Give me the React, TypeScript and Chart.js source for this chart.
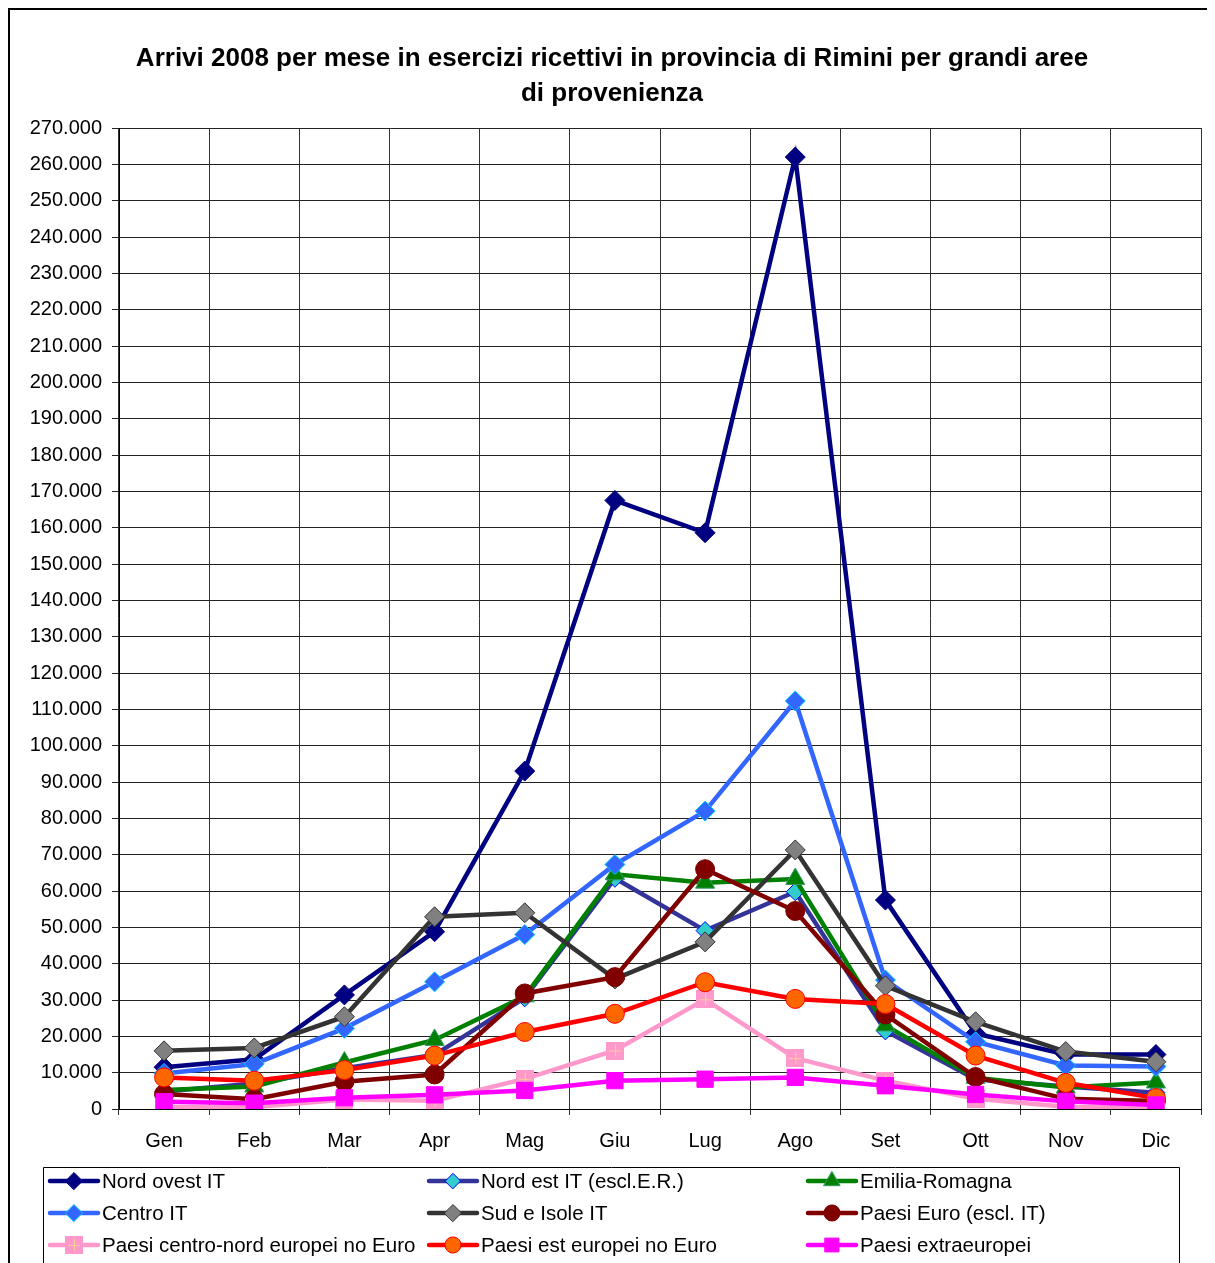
import React, { useEffect, useRef } from 'react';
import { Chart, registerables } from 'chart.js';

Chart.register(...registerables);

const months = ['Gen', 'Feb', 'Mar', 'Apr', 'Mag', 'Giu', 'Lug', 'Ago', 'Set', 'Ott', 'Nov', 'Dic'];

const titleLines = [
  'Arrivi 2008 per mese in esercizi ricettivi in provincia di Rimini per grandi aree',
  'di provenienza',
];

const seriesNames = [
  'Nord ovest IT',
  'Nord est IT (escl.E.R.)',
  'Emilia-Romagna',
  'Centro IT',
  'Sud e Isole IT',
  'Paesi Euro (escl. IT)',
  'Paesi centro-nord europei no Euro',
  'Paesi est europei no Euro',
  'Paesi extraeuropei',
];

const nordOvest = [11500, 13700, 31400, 48800, 93000, 167500, 158600, 262000, 57500, 20800, 15000, 15000];
const nordEst = [4800, 7000, 11200, 14900, 30600, 63500, 49100, 59800, 21500, 8200, 6200, 4500];
const emilia = [5200, 6200, 12800, 19000, 31000, 64600, 62300, 63300, 23000, 8600, 5900, 7300];
const centro = [9800, 12400, 22200, 35000, 48000, 67300, 82000, 112300, 35500, 18500, 12000, 11700];
const sud = [16000, 16800, 25400, 52900, 54000, 35800, 46000, 71300, 33900, 24000, 15800, 13000];
const paesiEuro = [4100, 2700, 7500, 9500, 31800, 36300, 66000, 54500, 26000, 8800, 2800, 2200];
const centroNord = [500, 500, 2600, 2300, 8300, 16100, 30200, 14000, 7800, 2800, 600, 300];
const estEuropei = [8700, 7800, 10700, 14700, 21200, 26200, 34900, 30300, 28900, 14700, 7200, 3000];
const extraEuropei = [2000, 1600, 3100, 3900, 5100, 7800, 8200, 8700, 6400, 4000, 2100, 1100];

const seriesValues = [nordOvest, nordEst, emilia, centro, sud, paesiEuro, centroNord, estEuropei, extraEuropei];

const yMin = 0;
const yMax = 270000;
const yStep = 10000;

const FONT = '"Liberation Sans", Arial, sans-serif';

type Style = {
  line: string;
  fill: string;
  border: string;
  shape: string;
  radius: number;
};

const styles: Style[] = [
  { line: '#000080', fill: '#000080', border: '#000080', shape: 'rectRot', radius: 10 },
  { line: '#333399', fill: '#33CCCC', border: '#0000FF', shape: 'rectRot', radius: 9 },
  { line: '#008000', fill: '#008000', border: '#339966', shape: 'triangle', radius: 11 },
  { line: '#3366FF', fill: '#3366FF', border: '#00CCFF', shape: 'rectRot', radius: 10 },
  { line: '#333333', fill: '#808080', border: '#333333', shape: 'rectRot', radius: 10 },
  { line: '#800000', fill: '#800000', border: '#800000', shape: 'circle', radius: 9.5 },
  { line: '#FF99CC', fill: '#FF99CC', border: '#FF99CC', shape: 'pinkCross', radius: 9 },
  { line: '#FF0000', fill: '#FF6600', border: '#FF0000', shape: 'circle', radius: 9.5 },
  { line: '#FF00FF', fill: '#FF00FF', border: '#FF00FF', shape: 'rect', radius: 11.5 },
];

function makePinkMarker(size: number): HTMLCanvasElement {
  const c = document.createElement('canvas');
  c.width = size;
  c.height = size;
  const g = c.getContext('2d')!;
  g.fillStyle = '#FF99CC';
  g.fillRect(0, 0, size, size);
  g.strokeStyle = '#FFCC99';
  g.lineWidth = 1;
  const m = Math.floor(size / 2) + 0.5;
  g.beginPath();
  g.moveTo(m, 3);
  g.lineTo(m, size - 3);
  g.moveTo(3, m);
  g.lineTo(size - 3, m);
  g.stroke();
  return c;
}

const fmt = (v: number) => String(Math.round(v)).replace(/\B(?=(\d{3})+(?!\d))/g, '.');

function drawMarker(ctx: CanvasRenderingContext2D, s: Style, x: number, y: number, pink: HTMLCanvasElement) {
  const r = s.radius;
  ctx.save();
  ctx.fillStyle = s.fill;
  ctx.strokeStyle = s.border;
  ctx.lineWidth = 1;
  ctx.beginPath();
  if (s.shape === 'pinkCross') {
    ctx.drawImage(pink, x - pink.width / 2, y - pink.height / 2);
    ctx.restore();
    return;
  } else if (s.shape === 'rectRot') {
    ctx.moveTo(x - r, y);
    ctx.lineTo(x, y - r);
    ctx.lineTo(x + r, y);
    ctx.lineTo(x, y + r);
    ctx.closePath();
  } else if (s.shape === 'triangle') {
    ctx.moveTo(x, y - r);
    ctx.lineTo(x + r * 0.866, y + r * 0.5);
    ctx.lineTo(x - r * 0.866, y + r * 0.5);
    ctx.closePath();
  } else if (s.shape === 'circle') {
    ctx.arc(x, y, r, 0, Math.PI * 2);
  } else {
    const h = r * Math.SQRT1_2;
    ctx.rect(x - h, y - h, 2 * h, 2 * h);
  }
  ctx.fill();
  ctx.stroke();
  ctx.restore();
}

export default function App() {
  const canvasRef = useRef<HTMLCanvasElement | null>(null);

  useEffect(() => {
    document.documentElement.style.overflow = 'hidden';
    document.body.style.overflow = 'hidden';
    const canvas = canvasRef.current;
    if (!canvas) return;
    const pink = makePinkMarker(18);

    const datasets = seriesNames.map((name, i) => {
      const s = styles[i];
      return {
        label: name,
        data: seriesValues[i],
        borderColor: s.line,
        backgroundColor: s.fill,
        borderWidth: 4.5,
        pointStyle: (s.shape === 'pinkCross' ? pink : s.shape) as any,
        pointRadius: s.radius,
        pointBackgroundColor: s.fill,
        pointBorderColor: s.border,
        pointBorderWidth: 1,
        tension: 0,
        fill: false,
        order: seriesNames.length - i,
      };
    });

    const decor = {
      id: 'decor',
      beforeDraw(chart: any) {
        const ctx = chart.ctx as CanvasRenderingContext2D;
        ctx.save();
        ctx.fillStyle = '#fff';
        ctx.fillRect(0, 0, chart.width, chart.height);
        ctx.strokeStyle = '#000';
        ctx.lineWidth = 2;
        ctx.beginPath();
        ctx.moveTo(1, chart.height + 5);
        ctx.lineTo(1, 1);
        ctx.lineTo(chart.width + 5, 1);
        ctx.stroke();
        ctx.fillStyle = '#000';
        ctx.font = `bold 26px ${FONT}`;
        ctx.textAlign = 'center';
        ctx.textBaseline = 'middle';
        ctx.fillText(titleLines[0], 604, 51);
        ctx.fillText(titleLines[1], 604, 86);
        ctx.restore();
      },
      afterDraw(chart: any) {
        const ctx = chart.ctx as CanvasRenderingContext2D;
        ctx.save();
        ctx.strokeStyle = '#000';
        ctx.lineWidth = 1;
        ctx.beginPath();
        ctx.moveTo(35.5, chart.height + 5);
        ctx.lineTo(35.5, 1159.5);
        ctx.lineTo(1171.5, 1159.5);
        ctx.lineTo(1171.5, chart.height + 5);
        ctx.stroke();
        const colX = [40, 419, 798];
        const rowY = [1173, 1205, 1237];
        ctx.font = `20.5px ${FONT}`;
        ctx.textBaseline = 'middle';
        ctx.textAlign = 'left';
        seriesNames.forEach((name, i) => {
          const s = styles[i];
          const x0 = colX[i % 3];
          const y = rowY[Math.floor(i / 3)];
          ctx.strokeStyle = s.line;
          ctx.lineWidth = 4.5;
          ctx.lineCap = 'round';
          ctx.beginPath();
          ctx.moveTo(x0 + 2, y);
          ctx.lineTo(x0 + 50, y);
          ctx.stroke();
          const small: Style = { ...s, radius: s.radius * 0.85 };
          drawMarker(ctx, small, x0 + 26, y, pink);
          ctx.fillStyle = '#000';
          ctx.fillText(name, x0 + 54, y + 1);
        });
        ctx.restore();
      },
    };

    const chart = new Chart(canvas, {
      type: 'line',
      data: { labels: months, datasets: datasets as any },
      options: {
        responsive: false,
        animation: false,
        events: [],
        layout: { padding: { top: 120, left: 0, right: 14, bottom: 100 } },
        plugins: {
          legend: { display: false },
          tooltip: { enabled: false },
          title: { display: false },
        },
        scales: {
          x: {
            type: 'category',
            offset: true,
            grid: {
              offset: true,
              color: '#333',
              lineWidth: 1,
              drawTicks: true,
              tickLength: 6,
            },
            border: { color: '#000', width: 1 },
            ticks: {
              color: '#000',
              font: { family: FONT, size: 20 },
              padding: 14,
              maxRotation: 0,
              autoSkip: false,
            },
            afterFit(scale: any) {
              scale.height = 54;
            },
          },
          y: {
            min: yMin,
            max: yMax,
            grid: {
              color: '#222',
              lineWidth: 1,
              drawTicks: true,
              tickLength: 7,
            },
            border: { color: '#000', width: 1 },
            ticks: {
              stepSize: yStep,
              color: '#000',
              font: { family: FONT, size: 20 },
              padding: 10,
              callback: (v: any) => fmt(Number(v)),
            },
            afterFit(scale: any) {
              scale.width = 111;
            },
          },
        },
      },
      plugins: [decor],
    });

    return () => {
      chart.destroy();
    };
  }, []);

  return (
    <div style={{ width: 1207, height: 1255 }}>
      <canvas ref={canvasRef} width={1207} height={1255} style={{ display: 'block' }} />
    </div>
  );
}
